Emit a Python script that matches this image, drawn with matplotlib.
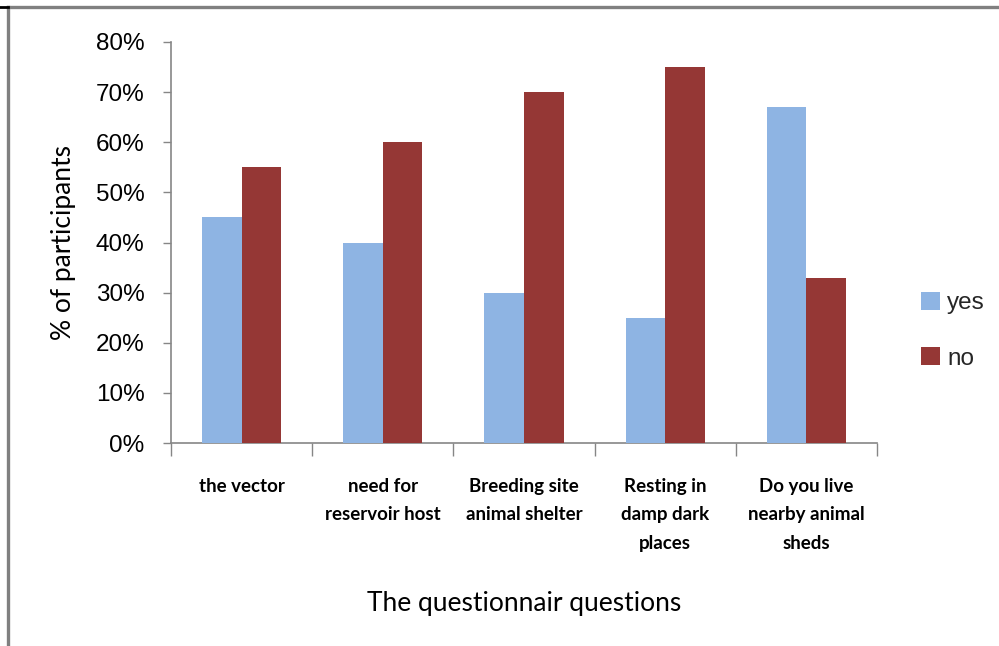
import matplotlib
matplotlib.use("Agg")
import matplotlib.pyplot as plt
import numpy as np
from matplotlib.lines import Line2D
from matplotlib.ticker import FuncFormatter, MultipleLocator

categories = [
    "the vector",
    "need for\nreservoir host",
    "Breeding site\nanimal shelter",
    "Resting in\ndamp dark\nplaces",
    "Do you live\nnearby animal\nsheds",
]
yes_pct = [45, 40, 30, 25, 67]
no_pct = [55, 60, 70, 75, 33]

yes_color = "#8EB4E3"
no_color = "#953735"
axis_gray = "#868686"

fig = plt.figure(figsize=(9.99, 6.46), dpi=100)
ax = fig.add_axes([0.1712, 0.3142, 0.7067, 0.6208])

x = np.arange(len(categories))
w = 0.28
ax.bar(x - w / 2, yes_pct, width=w, color=yes_color, label="yes", zorder=3)
ax.bar(x + w / 2, no_pct, width=w, color=no_color, label="no", zorder=3)

ax.set_xlim(-0.5, len(categories) - 0.5)
ax.set_ylim(0, 80)
ax.yaxis.set_major_locator(MultipleLocator(10))
ax.yaxis.set_major_formatter(FuncFormatter(lambda v, p: f"{int(v)}%"))
ax.tick_params(axis="y", length=6, width=1, color=axis_gray, labelsize=17.5,
               pad=13, direction="out")
for t in ax.get_yticklabels():
    t.set_family("Liberation Sans")

# category boundaries carry the x tick marks; labels sit at the centres
ax.set_xticks(np.arange(-0.5, len(categories), 1.0))
ax.set_xticklabels([])
ax.tick_params(axis="x", length=9, width=1, color=axis_gray)
ax.set_xticks(x, minor=True)
ax.set_xticklabels(categories, minor=True, family="Lato", fontsize=13.5,
                   fontweight="bold", linespacing=1.82, va="top")
ax.tick_params(axis="x", which="minor", length=0, pad=25)

for s in ["top", "right"]:
    ax.spines[s].set_visible(False)
for s in ["left", "bottom"]:
    ax.spines[s].set_color(axis_gray)
    ax.spines[s].set_linewidth(1.2)

ax.set_ylabel("% of participants", family="Lato", fontsize=19, labelpad=14)
ax.set_xlabel("The questionnair questions", family="Lato", fontsize=19,
              labelpad=28)

leg = ax.legend(loc="center left", bbox_to_anchor=(1.032, 0.28), frameon=False,
                handlelength=0.75, handleheight=0.75, handletextpad=0.3,
                labelspacing=1.35, prop={"family": "Liberation Sans", "size": 17.5})
for t in leg.get_texts():
    t.set_color("#262626")

# outer frame lines
fig.add_artist(Line2D([0.008, 1.0], [0.989, 0.989], color="#808080", lw=2.4,
                      transform=fig.transFigure))
fig.add_artist(Line2D([0.0085, 0.0085], [0.0, 0.989], color="#808080", lw=2.4,
                      transform=fig.transFigure))
fig.add_artist(Line2D([0.0, 0.008], [0.989, 0.989], color="black", lw=2.0,
                      transform=fig.transFigure))

fig.savefig("out.png", dpi=100)
